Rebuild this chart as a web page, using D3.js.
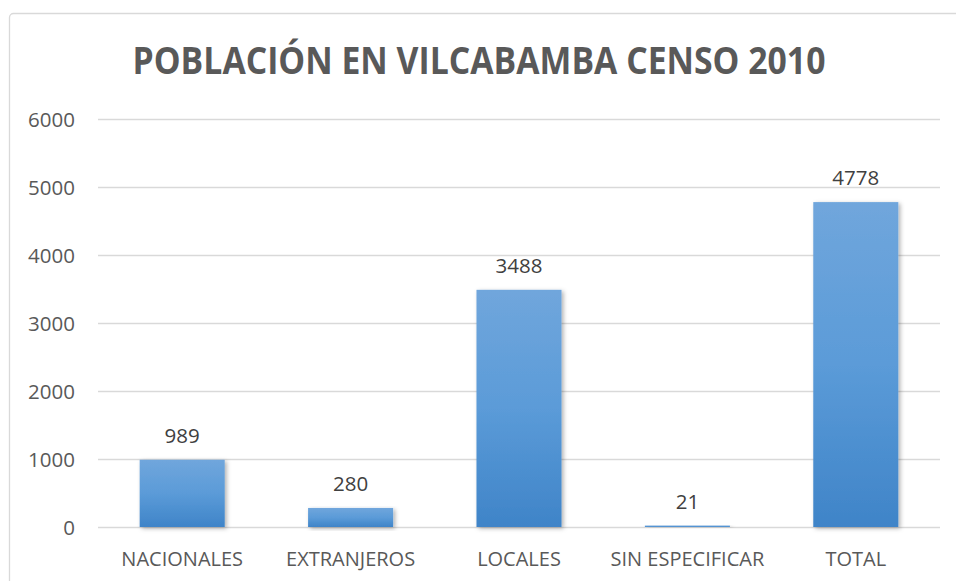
<!DOCTYPE html>
<html>
<head>
<meta charset="utf-8">
<script src="https://cdn.jsdelivr.net/npm/d3@7"></script>
<style>
  html, body { margin: 0; padding: 0; background: #fff; }
  svg { display: block; }
</style>
</head>
<body>
<svg id="chart" width="956" height="581"></svg>
<script>
const categories = ["NACIONALES", "EXTRANJEROS", "LOCALES", "SIN ESPECIFICAR", "TOTAL"];
const values = [989, 280, 3488, 21, 4778];
const yTicks = [0, 1000, 2000, 3000, 4000, 5000, 6000];
const title = "POBLACIÓN EN VILCABAMBA CENSO 2010";

const W = 956, H = 581;
const margin = { left: 98, right: 16, top: 119, bottom: 54 };
const svg = d3.select("#chart");
const font = "'Open Sans', 'Liberation Sans', sans-serif";
const textColor = "#595959";

const defs = svg.append("defs");
const grad = defs.append("linearGradient").attr("id", "barGrad")
  .attr("x1", 0).attr("y1", 0).attr("x2", 0).attr("y2", 1);
grad.append("stop").attr("offset", "0%").attr("stop-color", "#70a6dc");
grad.append("stop").attr("offset", "50%").attr("stop-color", "#5b9bd8");
grad.append("stop").attr("offset", "100%").attr("stop-color", "#3f84c8");
const shadow = defs.append("filter").attr("id", "shadow")
  .attr("x", "-20%").attr("y", "-10%").attr("width", "140%").attr("height", "130%");
shadow.append("feDropShadow").attr("dx", 2).attr("dy", 1.5).attr("stdDeviation", 2)
  .attr("flood-color", "#000").attr("flood-opacity", 0.3);

// chart frame
svg.append("rect").attr("x", 9.5).attr("y", 13.5).attr("width", W + 20).attr("height", H + 20)
  .attr("rx", 4).attr("fill", "#fff").attr("stroke", "#d9d9d9").attr("stroke-width", 1.3);

const x = d3.scaleBand().domain(categories).range([margin.left, W - margin.right]).paddingInner(0.495).paddingOuter(0.2475);
const y = d3.scaleLinear().domain([0, 6000]).range([H - margin.bottom, margin.top]);

// gridlines
svg.append("g").selectAll("line").data(yTicks).join("line")
  .attr("x1", margin.left).attr("x2", W - margin.right)
  .attr("y1", d => Math.round(y(d)) + 0.5).attr("y2", d => Math.round(y(d)) + 0.5)
  .attr("stroke", "#d9d9d9").attr("stroke-width", 1.5);

// y axis labels
const yAxis = svg.append("g").attr("transform", `translate(${75},0)`)
  .call(d3.axisLeft(y).tickValues(yTicks).tickSize(0).tickPadding(0).tickFormat(d3.format("d")));
yAxis.select(".domain").remove();
yAxis.selectAll("text").attr("font-family", font).attr("font-size", 20.5).attr("fill", textColor).attr("dy", "0.36em");

// bars
svg.append("g").selectAll("rect").data(values).join("rect")
  .attr("x", (d, i) => x(categories[i]))
  .attr("width", x.bandwidth())
  .attr("y", d => y(d))
  .attr("height", d => y(0) - y(d))
  .attr("fill", "url(#barGrad)")
  .attr("filter", "url(#shadow)");

// value labels
svg.append("g").selectAll("text").data(values).join("text")
  .attr("x", (d, i) => x(categories[i]) + x.bandwidth() / 2)
  .attr("y", d => y(d) - 17)
  .attr("text-anchor", "middle")
  .attr("font-family", font).attr("font-size", 20.5).attr("fill", "#404040")
  .text(d => d);

// x axis labels
const xAxis = svg.append("g").attr("transform", `translate(0,${y(0)})`)
  .call(d3.axisBottom(x).tickSize(0).tickPadding(0));
xAxis.select(".domain").remove();
xAxis.selectAll("text").attr("font-family", font).attr("font-size", 20).attr("fill", textColor)
  .attr("dy", null).attr("y", 39);

// title
svg.append("text").attr("transform", "translate(479,74) scale(0.913,1)").attr("text-anchor", "middle")
  .attr("font-family", font).attr("font-weight", "bold").attr("font-size", 37)
  .attr("fill", textColor).text(title);
</script>
</body>
</html>
